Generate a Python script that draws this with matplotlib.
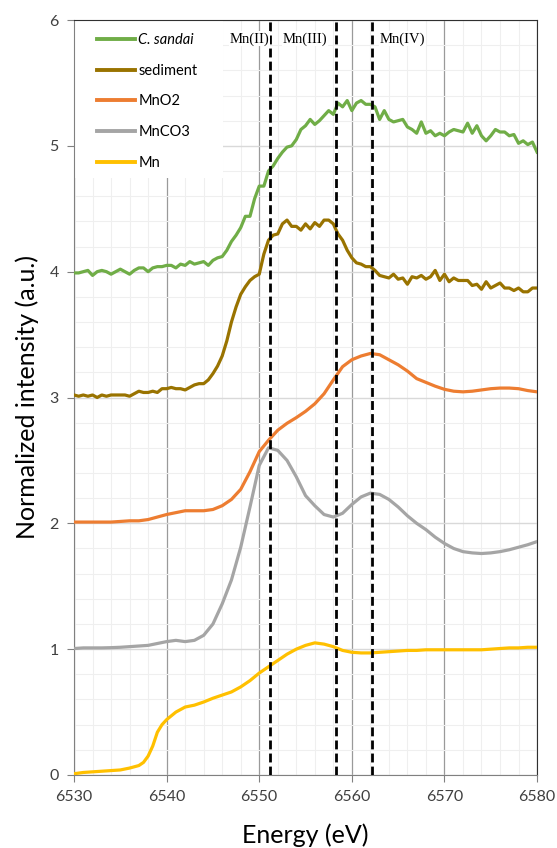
import matplotlib.pyplot as plt
import numpy as np
from matplotlib.patches import Rectangle
from matplotlib.ticker import MultipleLocator

# energies (eV)
e_fine = np.arange(6530, 6580.5, 0.5)
e_coarse = np.arange(6530, 6581, 1.0)
e_mn = [6530, 6531, 6532, 6533, 6534, 6535, 6536, 6537, 6537.5, 6538,
        6538.5, 6539, 6539.5, 6540, 6541, 6542, 6543, 6544, 6545, 6546,
        6547, 6548, 6549, 6550, 6551, 6552, 6553, 6554, 6555, 6556,
        6557, 6558, 6559, 6560, 6561, 6562, 6563, 6564, 6565, 6566,
        6567, 6568, 6569, 6570, 6571, 6572, 6573, 6574, 6575, 6576,
        6577, 6578, 6579, 6580]

c_sandai = [3.99, 3.99, 4.00, 4.01, 3.97, 4.00, 4.01, 4.00, 3.98, 4.00,
            4.02, 4.00, 3.98, 4.01, 4.03, 4.03, 4.00, 4.03, 4.04, 4.04,
            4.05, 4.05, 4.03, 4.06, 4.05, 4.08, 4.06, 4.07, 4.08, 4.05,
            4.09, 4.11, 4.12, 4.17, 4.24, 4.29, 4.35, 4.44, 4.44, 4.58,
            4.68, 4.68, 4.80, 4.84, 4.90, 4.95, 4.99, 5.00, 5.05, 5.13,
            5.16, 5.21, 5.17, 5.20, 5.24, 5.28, 5.25, 5.34, 5.31, 5.36,
            5.28, 5.34, 5.36, 5.33, 5.33, 5.31, 5.21, 5.28, 5.21, 5.19,
            5.20, 5.21, 5.15, 5.13, 5.10, 5.19, 5.10, 5.12, 5.08, 5.10,
            5.08, 5.11, 5.13, 5.12, 5.11, 5.18, 5.10, 5.16, 5.08, 5.04,
            5.08, 5.13, 5.11, 5.11, 5.08, 5.09, 5.02, 5.04, 5.01, 5.03,
            4.95]

sediment = [3.02, 3.01, 3.02, 3.01, 3.02, 3.00, 3.02, 3.01, 3.02, 3.02,
            3.02, 3.02, 3.01, 3.03, 3.05, 3.04, 3.04, 3.05, 3.04, 3.07,
            3.07, 3.08, 3.07, 3.07, 3.06, 3.08, 3.10, 3.11, 3.11, 3.14,
            3.19, 3.25, 3.33, 3.45, 3.60, 3.72, 3.82, 3.88, 3.93, 3.96,
            3.98, 4.14, 4.25, 4.29, 4.30, 4.38, 4.41, 4.36, 4.36, 4.33,
            4.38, 4.34, 4.39, 4.36, 4.41, 4.41, 4.38, 4.30, 4.25, 4.17,
            4.11, 4.07, 4.06, 4.04, 4.04, 4.01, 3.97, 3.96, 3.95, 3.98,
            3.94, 3.95, 3.90, 3.96, 3.95, 3.97, 3.94, 3.96, 4.01, 3.93,
            3.98, 3.92, 3.95, 3.93, 3.93, 3.93, 3.89, 3.90, 3.86, 3.92,
            3.87, 3.89, 3.91, 3.87, 3.87, 3.85, 3.87, 3.84, 3.84, 3.87,
            3.87]

mno2 = [2.01, 2.01, 2.01, 2.01, 2.01, 2.015, 2.02, 2.02, 2.03, 2.05,
        2.07, 2.085, 2.10, 2.10, 2.10, 2.11, 2.14, 2.19, 2.27, 2.41,
        2.57, 2.66, 2.74, 2.795, 2.84, 2.89, 2.95, 3.03, 3.14, 3.245,
        3.30, 3.33, 3.35, 3.34, 3.30, 3.26, 3.21, 3.15, 3.12, 3.09,
        3.065, 3.05, 3.045, 3.05, 3.06, 3.07, 3.075, 3.075, 3.07, 3.055,
        3.045]

mnco3 = [1.005, 1.01, 1.01, 1.01, 1.012, 1.015, 1.02, 1.025, 1.03, 1.045,
         1.06, 1.07, 1.06, 1.07, 1.11, 1.20, 1.36, 1.55, 1.81, 2.13,
         2.46, 2.60, 2.58, 2.50, 2.37, 2.22, 2.14, 2.07, 2.05, 2.08,
         2.15, 2.21, 2.24, 2.23, 2.19, 2.13, 2.06, 2.00, 1.95, 1.89,
         1.84, 1.80, 1.775, 1.765, 1.76, 1.765, 1.775, 1.79, 1.81, 1.83,
         1.855]

mn = [0.01, 0.02, 0.025, 0.03, 0.035, 0.04, 0.055, 0.075, 0.10, 0.15,
      0.23, 0.34, 0.40, 0.44, 0.50, 0.54, 0.555, 0.58, 0.61, 0.635,
      0.66, 0.70, 0.75, 0.81, 0.86, 0.91, 0.96, 1.00, 1.03, 1.05,
      1.04, 1.02, 0.99, 0.975, 0.97, 0.97, 0.975, 0.98, 0.985, 0.99,
      0.99, 0.995, 0.995, 0.995, 0.995, 0.995, 0.995, 0.995, 1.0, 1.005,
      1.01, 1.01, 1.015, 1.015]

edge_pos = [6551.2, 6558.3, 6562.2]
edge_labels = ['Mn(II)', 'Mn(III)', 'Mn(IV)']
edge_label_x = [6548.95, 6554.95, 6565.5]

sans = 'Lato'
fig = plt.figure(figsize=(5.57, 8.48), dpi=100)
ax = fig.add_axes([0.1329, 0.0861, 0.8313, 0.8903])

ax.set_xlim(6530, 6580)
ax.set_ylim(0, 6)
ax.xaxis.set_major_locator(MultipleLocator(10))
ax.xaxis.set_minor_locator(MultipleLocator(2))
ax.yaxis.set_major_locator(MultipleLocator(1))
ax.yaxis.set_minor_locator(MultipleLocator(0.2))
ax.grid(which='minor', color='#EFEFEF', lw=0.8, zorder=0)
ax.grid(which='major', axis='y', color='#D9D9D9', lw=1.0, zorder=0)
ax.grid(which='major', axis='x', color='#9A9A9A', lw=0.9, zorder=0)
ax.set_axisbelow(True)
ax.tick_params(which='minor', length=0)
ax.tick_params(which='major', length=5, color='#808080', labelcolor='#404040',
               labelsize=11.5, pad=6)
for lbl in ax.get_xticklabels() + ax.get_yticklabels():
    lbl.set_family(sans)
for s in ['left', 'bottom']:
    ax.spines[s].set_color('#808080')
for s in ['top', 'right']:
    ax.spines[s].set_color('#303030')

# legend backdrop
ax.add_patch(Rectangle((0, 0.791), 0.322, 0.209, transform=ax.transAxes,
                       facecolor='white', edgecolor='none', zorder=1))

ax.plot(e_fine, c_sandai, color='#70AD47', lw=2.3, label='C. sandai', zorder=3)
ax.plot(e_fine, sediment, color='#997300', lw=2.3, label='sediment', zorder=3)
ax.plot(e_coarse, mno2, color='#ED7D31', lw=2.3, label='MnO2', zorder=3)
ax.plot(e_coarse, mnco3, color='#A5A5A5', lw=2.3, label='MnCO3', zorder=3)
ax.plot(e_mn, mn, color='#FFC000', lw=2.3, label='Mn', zorder=3)

for xp in edge_pos:
    ax.axvline(xp, color='black', lw=2.0, dashes=(3.2, 1.5), zorder=4)
for xl, t in zip(edge_label_x, edge_labels):
    ax.text(xl, 5.85, t, ha='center', va='center', family='Liberation Serif',
            fontsize=10.5, zorder=5,
            bbox=dict(facecolor='white', edgecolor='none', pad=0.5))

leg = ax.legend(loc='upper left', bbox_to_anchor=(0.049, 0.983), frameon=False,
                borderpad=0, borderaxespad=0, handlelength=2.6,
                handletextpad=0.25, labelspacing=1.15,
                prop={'family': sans, 'size': 10.5})
leg.get_texts()[0].set_style('italic')
for h in leg.get_lines():
    h.set_linewidth(2.8)

fig.text(0.548, 0.006, 'Energy (eV)', ha='center', va='baseline',
         family=sans, fontsize=18)
fig.text(0.048, 0.532, 'Normalized intensity (a.u.)', ha='center', va='center',
         rotation=90, family=sans, fontsize=18)

fig.savefig('out.png', dpi=100)
plt.close(fig)
